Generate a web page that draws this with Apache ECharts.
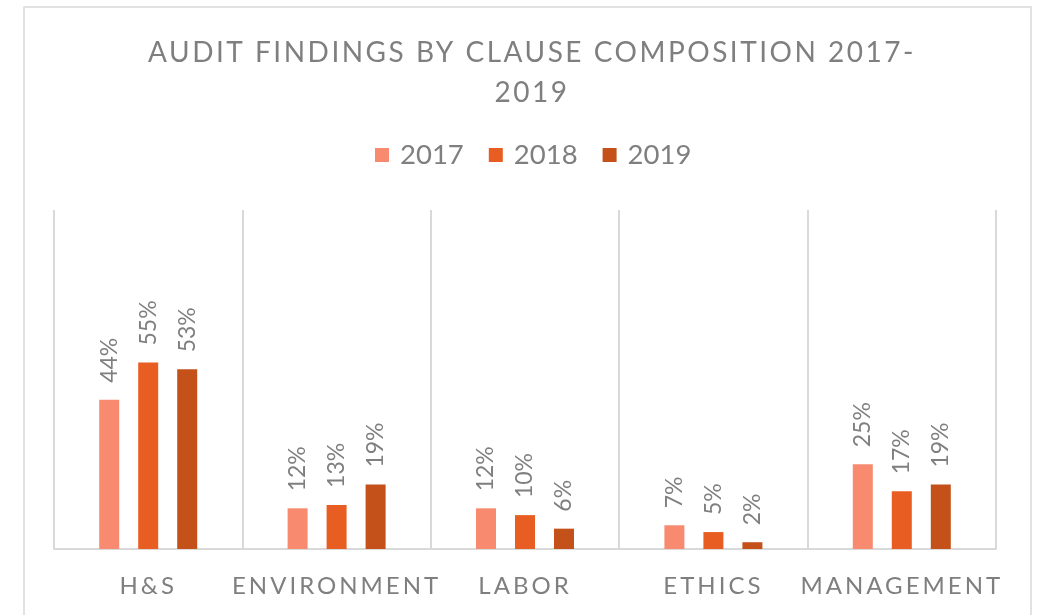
<!DOCTYPE html>
<html>
<head>
<meta charset="utf-8">
<script src="https://cdn.jsdelivr.net/npm/echarts@6/dist/echarts.min.js"></script>
<style>
html,body{margin:0;padding:0;background:#fff;}
#main{width:1046px;height:615px;}
</style>
</head>
<body>
<div id="main"></div>
<script>
const categories = ['H&S', 'ENVIRONMENT', 'LABOR', 'ETHICS', 'MANAGEMENT'];
const seriesNames = ['2017', '2018', '2019'];
const values2017 = [44, 12, 12, 7, 25];
const values2018 = [55, 13, 10, 5, 17];
const values2019 = [53, 19, 6, 2, 19];
const colors = ['#F88A6F', '#E85E22', '#C4501A'];
const titleText = 'AUDIT FINDINGS BY CLAUSE COMPOSITION 2017-\n2019';

// letter spacing for the spaced-out title and axis labels (canvas feature)
(function () {
  const proto = CanvasRenderingContext2D.prototype;
  const orig = proto.fillText;
  proto.fillText = function (t, x, y, m) {
    const f = this.font || '';
    let ls = '0px';
    if (/\b28px\b/.test(f)) ls = '2.5px';
    else if (/\b24px\b/.test(f)) ls = '3px';
    if ('letterSpacing' in this) this.letterSpacing = ls;
    const r = (m === undefined) ? orig.call(this, t, x, y) : orig.call(this, t, x, y, m);
    if ('letterSpacing' in this) this.letterSpacing = '0px';
    return r;
  };
})();

const chart = echarts.init(document.getElementById('main'), null, {renderer: 'canvas'});
const fontFamily = 'Lato, "Open Sans", sans-serif';
const gray = '#7f7f7f';
const dataSets = [values2017, values2018, values2019];

const series = seriesNames.map((name, i) => ({
  name: name,
  type: 'bar',
  data: dataSets[i],
  barWidth: 20,
  barGap: '95%',
  itemStyle: {color: colors[i]},
  label: {
    show: true,
    position: 'top',
    rotate: 90,
    align: 'left',
    verticalAlign: 'middle',
    distance: 17,
    formatter: '{c}%',
    color: gray,
    fontFamily: fontFamily,
    fontSize: 23
  }
}));

chart.setOption({
  animation: false,
  color: colors,
  title: {
    text: titleText,
    left: 527,
    textAlign: 'center',
    top: 28,
    textStyle: {
      color: gray,
      fontFamily: fontFamily,
      fontWeight: 'normal',
      fontSize: 28,
      lineHeight: 40
    }
  },
  legend: {
    data: seriesNames,
    top: 136,
    left: 370,
    icon: 'rect',
    itemWidth: 14,
    itemHeight: 14,
    itemGap: 25,
    textStyle: {
      color: gray,
      fontFamily: fontFamily,
      fontSize: 27.5,
      padding: [0, 0, 0, 6]
    }
  },
  grid: {left: 54, right: 50, top: 210, bottom: 66, containLabel: false},
  xAxis: {
    type: 'category',
    data: categories,
    axisLine: {show: true, lineStyle: {color: '#d9d9d9', width: 2}},
    axisTick: {show: false},
    splitLine: {show: true, lineStyle: {color: '#d9d9d9', width: 2}},
    axisLabel: {
      color: gray,
      fontFamily: fontFamily,
      fontSize: 24,
      margin: 25,
      interval: 0
    }
  },
  yAxis: {
    type: 'value',
    min: 0,
    max: 100,
    show: false,
    splitLine: {show: false}
  },
  graphic: [{
    type: 'rect',
    shape: {x: 24, y: 7, width: 1007, height: 640},
    style: {fill: 'none', stroke: '#d9d9d9', lineWidth: 1.5},
    silent: true
  }],
  series: series
});
</script>
</body>
</html>
